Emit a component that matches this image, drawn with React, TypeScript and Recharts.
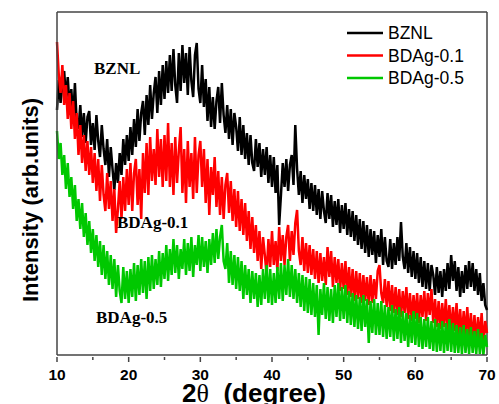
import React from "react";
import { LineChart, Line, XAxis, YAxis, ReferenceLine } from "recharts";

// 2-theta positions (degree), 0.25 step, one row = 5 degrees
const angles = [
  10, 10.25, 10.5, 10.75, 11, 11.25, 11.5, 11.75, 12, 12.25, 12.5, 12.75, 13, 13.25, 13.5, 13.75, 14, 14.25, 14.5, 14.75,
  15, 15.25, 15.5, 15.75, 16, 16.25, 16.5, 16.75, 17, 17.25, 17.5, 17.75, 18, 18.25, 18.5, 18.75, 19, 19.25, 19.5, 19.75,
  20, 20.25, 20.5, 20.75, 21, 21.25, 21.5, 21.75, 22, 22.25, 22.5, 22.75, 23, 23.25, 23.5, 23.75, 24, 24.25, 24.5, 24.75,
  25, 25.25, 25.5, 25.75, 26, 26.25, 26.5, 26.75, 27, 27.25, 27.5, 27.75, 28, 28.25, 28.5, 28.75, 29, 29.25, 29.5, 29.75,
  30, 30.25, 30.5, 30.75, 31, 31.25, 31.5, 31.75, 32, 32.25, 32.5, 32.75, 33, 33.25, 33.5, 33.75, 34, 34.25, 34.5, 34.75,
  35, 35.25, 35.5, 35.75, 36, 36.25, 36.5, 36.75, 37, 37.25, 37.5, 37.75, 38, 38.25, 38.5, 38.75, 39, 39.25, 39.5, 39.75,
  40, 40.25, 40.5, 40.75, 41, 41.25, 41.5, 41.75, 42, 42.25, 42.5, 42.75, 43, 43.25, 43.5, 43.75, 44, 44.25, 44.5, 44.75,
  45, 45.25, 45.5, 45.75, 46, 46.25, 46.5, 46.75, 47, 47.25, 47.5, 47.75, 48, 48.25, 48.5, 48.75, 49, 49.25, 49.5, 49.75,
  50, 50.25, 50.5, 50.75, 51, 51.25, 51.5, 51.75, 52, 52.25, 52.5, 52.75, 53, 53.25, 53.5, 53.75, 54, 54.25, 54.5, 54.75,
  55, 55.25, 55.5, 55.75, 56, 56.25, 56.5, 56.75, 57, 57.25, 57.5, 57.75, 58, 58.25, 58.5, 58.75, 59, 59.25, 59.5, 59.75,
  60, 60.25, 60.5, 60.75, 61, 61.25, 61.5, 61.75, 62, 62.25, 62.5, 62.75, 63, 63.25, 63.5, 63.75, 64, 64.25, 64.5, 64.75,
  65, 65.25, 65.5, 65.75, 66, 66.25, 66.5, 66.75, 67, 67.25, 67.5, 67.75, 68, 68.25, 68.5, 68.75, 69, 69.25, 69.5, 69.75,
  70,
];

const bznl = [
  245, 275, 252, 270, 284, 256, 278, 248, 266, 236, 272, 232, 226, 250, 218, 242, 212, 238, 244, 210,
  232, 205, 240, 214, 198, 230, 206, 190, 216, 178, 208, 186, 165, 192, 172, 202, 180, 216, 190, 220,
  194, 228, 200, 236, 208, 246, 214, 242, 254, 220, 260, 230, 270, 236, 262, 278, 242, 284, 250, 290,
  256, 294, 262, 300, 264, 306, 270, 252, 302, 264, 310, 272, 302, 260, 308, 274, 258, 300, 312, 266,
  252, 290, 248, 276, 234, 268, 228, 258, 226, 254, 268, 232, 272, 240, 222, 250, 216, 246, 210, 242,
  228, 204, 238, 200, 230, 196, 222, 190, 220, 192, 184, 216, 188, 212, 178, 206, 180, 208, 172, 200,
  168, 198, 162, 190, 130, 160, 192, 168, 196, 164, 190, 200, 170, 230, 186, 160, 184, 152, 180, 156,
  176, 146, 172, 144, 170, 140, 166, 136, 164, 144, 132, 162, 136, 160, 128, 154, 130, 156, 122, 150,
  126, 152, 120, 146, 118, 144, 114, 140, 110, 136, 106, 134, 102, 130, 98, 126, 100, 124, 92, 120,
  98, 126, 90, 118, 94, 88, 116, 86, 112, 90, 118, 94, 133, 98, 86, 112, 82, 108, 78, 104,
  76, 102, 72, 98, 68, 94, 66, 92, 64, 90, 80, 60, 88, 62, 84, 58, 86, 64, 92, 66,
  100, 74, 94, 64, 88, 58, 84, 62, 90, 66, 94, 68, 92, 64, 86, 60, 82, 54, 72, 50,
  45,
];

const bdag01 = [
  313, 280, 262, 290, 250, 270, 236, 262, 226, 254, 216, 242, 200, 230, 192, 220, 184, 214, 180, 208,
  172, 202, 164, 196, 154, 190, 160, 144, 182, 146, 174, 134, 166, 122, 146, 174, 136, 178, 144, 186,
  150, 192, 144, 182, 196, 150, 186, 136, 202, 162, 212, 160, 218, 174, 206, 170, 226, 178, 216, 168,
  220, 174, 232, 168, 212, 160, 218, 172, 204, 228, 162, 206, 152, 214, 168, 202, 156, 218, 162, 200,
  214, 168, 206, 152, 196, 140, 188, 160, 198, 148, 184, 140, 178, 136, 170, 182, 142, 174, 134, 166,
  128, 164, 124, 156, 120, 152, 114, 144, 106, 138, 102, 130, 94, 124, 86, 118, 100, 80, 116, 88,
  124, 90, 114, 84, 128, 94, 120, 90, 118, 130, 94, 124, 100, 132, 145, 104, 90, 118, 84, 112,
  82, 110, 80, 106, 76, 104, 72, 102, 74, 98, 70, 108, 78, 104, 68, 98, 72, 96, 64, 92,
  66, 94, 60, 88, 58, 86, 54, 84, 56, 82, 52, 80, 54, 78, 50, 80, 52, 76, 56, 84,
  90, 62, 52, 76, 48, 74, 44, 70, 42, 68, 40, 66, 38, 64, 42, 68, 36, 62, 34, 60,
  36, 62, 32, 60, 38, 64, 34, 62, 40, 66, 32, 56, 28, 54, 26, 52, 28, 56, 24, 50,
  22, 48, 24, 52, 20, 46, 18, 44, 20, 48, 16, 42, 14, 40, 12, 38, 16, 42, 10, 34,
  22,
];

const bdag05 = [
  224, 196, 212, 180, 200, 166, 192, 158, 178, 146, 170, 134, 156, 126, 152, 118, 142, 110, 134, 102,
  126, 94, 120, 88, 114, 80, 110, 76, 104, 70, 100, 66, 96, 58, 90, 64, 52, 88, 56, 84,
  52, 86, 58, 92, 54, 90, 60, 96, 62, 94, 56, 98, 64, 100, 66, 96, 70, 104, 68, 102,
  76, 110, 74, 106, 80, 116, 82, 110, 76, 106, 86, 116, 80, 112, 84, 118, 78, 110, 90, 120,
  84, 118, 88, 114, 82, 116, 90, 122, 92, 126, 96, 118, 130, 94, 86, 112, 72, 104, 70, 100,
  66, 98, 64, 94, 56, 90, 60, 86, 52, 84, 56, 82, 48, 80, 50, 86, 56, 90, 52, 86,
  50, 82, 52, 88, 56, 92, 54, 90, 60, 96, 58, 90, 56, 86, 52, 82, 48, 80, 44, 78,
  42, 76, 40, 72, 38, 70, 20, 66, 40, 72, 36, 68, 34, 66, 32, 70, 38, 72, 34, 68,
  36, 70, 32, 64, 30, 62, 28, 60, 26, 58, 24, 60, 28, 56, 12, 54, 22, 56, 20, 52,
  20, 54, 18, 50, 16, 48, 18, 50, 14, 46, 16, 48, 12, 44, 14, 42, 8, 40, 12, 44,
  10, 42, 8, 38, 6, 36, 8, 38, 6, 34, 4, 36, 3, 32, 4, 34, 2, 32, 4, 36,
  3, 32, 2, 30, 2, 28, 1, 30, 2, 26, 1, 28, 2, 24, 1, 26, 1, 22, 0, 20,
  8,
];

const xTicks = [10, 15, 20, 25, 30, 35, 40, 45, 50, 55, 60, 65, 70];

const seriesNames = ["BZNL", "BDAg-0.1", "BDAg-0.5"];
const seriesColors = ["#000000", "#ff0000", "#00c800"];

const data = angles.map((a, i) => ({
  angle: a,
  BZNL: bznl[i],
  "BDAg-0.1": bdag01[i],
  "BDAg-0.5": bdag05[i],
}));

const AXIS = "#444";

const XTick = (props: any) => {
  const { x, y, payload } = props;
  const major = payload.value % 10 === 0;
  return (
    <g>
      <line x1={x} x2={x} y1={y} y2={y + (major ? 5 : 3)} stroke={AXIS} strokeWidth={1.5} />
      {major && (
        <text
          x={x}
          y={y + 23}
          textAnchor="middle"
          fontFamily="Arial, 'Liberation Sans', sans-serif"
          fontWeight="bold"
          fontSize={15.5}
          fill="#000"
        >
          {payload.value}
        </text>
      )}
    </g>
  );
};

export default function App() {
  return (
    <div style={{ position: "absolute", left: 0, top: 0, width: 499, height: 404 }}>
      <LineChart
        width={499}
        height={404}
        data={data}
        margin={{ top: 12, right: 12, bottom: 0, left: 0 }}
      >
        <XAxis
          dataKey="angle"
          type="number"
          domain={[10, 70]}
          ticks={xTicks}
          height={49}
          tickSize={0}
          tickLine={false}
          tick={<XTick />}
          axisLine={{ stroke: AXIS, strokeWidth: 1.5 }}
          interval={0}
        />
        <YAxis
          type="number"
          domain={[0, 343]}
          width={57}
          tick={false}
          tickLine={false}
          axisLine={{ stroke: AXIS, strokeWidth: 1.5 }}
        />
        <ReferenceLine y={343} stroke={AXIS} strokeWidth={1.5} />
        <ReferenceLine x={70} stroke={AXIS} strokeWidth={1.5} />
        {seriesNames.map((name, i) => (
          <Line
            key={name}
            dataKey={name}
            stroke={seriesColors[i]}
            strokeWidth={2.5}
            dot={false}
            type="linear"
            isAnimationActive={false}
          />
        ))}
      </LineChart>
      <svg
        width={499}
        height={404}
        style={{ position: "absolute", left: 0, top: 0, pointerEvents: "none" }}
      >
        {/* legend */}
        {seriesNames.map((name, i) => (
          <g key={name}>
            <line
              x1={347}
              x2={383}
              y1={33 + i * 22.5}
              y2={33 + i * 22.5}
              stroke={seriesColors[i]}
              strokeWidth={2.5}
            />
            <text
              x={388}
              y={33 + i * 22.5 + 6}
              fontFamily="Arial, 'Liberation Sans', sans-serif"
              fontSize={17.5}
              fill="#000"
            >
              {name}
            </text>
          </g>
        ))}
        {/* curve labels */}
        <g fontFamily="'Liberation Serif', 'Times New Roman', serif" fontWeight="bold" fontSize={17} fill="#000">
          <text x={94} y={74}>BZNL</text>
          <text x={117} y={228}>BDAg-0.1</text>
          <text x={96} y={323}>BDAg-0.5</text>
        </g>
        {/* axis titles */}
        <text
          transform="translate(38,200) rotate(-90)"
          textAnchor="middle"
          fontFamily="Arial, 'Liberation Sans', sans-serif"
          fontWeight="bold"
          fontSize={22}
          fill="#000"
        >
          Intensity (arb.units)
        </text>
        <text
          x={254}
          y={402}
          textAnchor="middle"
          fontFamily="Arial, 'Liberation Sans', sans-serif"
          fontWeight="bold"
          fontSize={26}
          fill="#000"
          style={{ whiteSpace: "pre" }}
        >
          2<tspan fontFamily="'Liberation Serif', serif" fontWeight="normal">θ</tspan>
          {"  (degree)"}
        </text>
      </svg>
    </div>
  );
}
